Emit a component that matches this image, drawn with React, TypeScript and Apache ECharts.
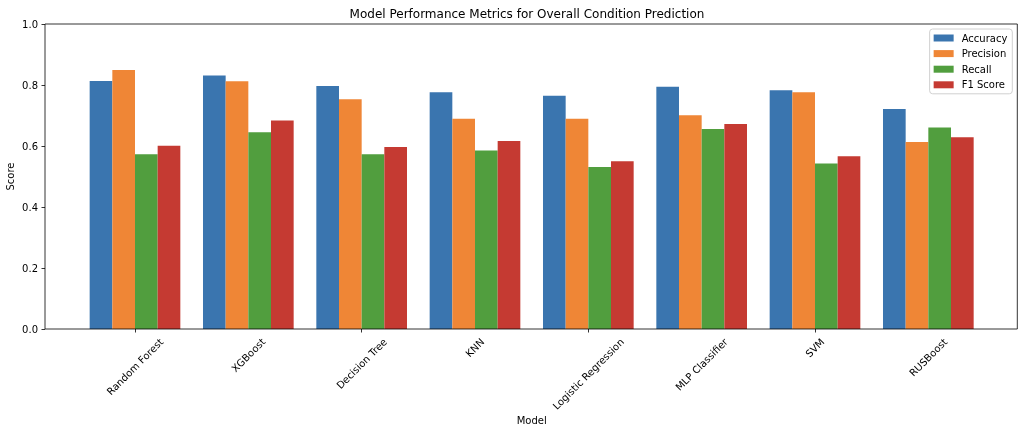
import React, { useEffect, useRef } from "react";
import * as echarts from "echarts";

const models = [
  "Random Forest",
  "XGBoost",
  "Decision Tree",
  "KNN",
  "Logistic Regression",
  "MLP Classifier",
  "SVM",
  "RUSBoost",
];
const accuracy = [0.813, 0.831, 0.797, 0.776, 0.765, 0.794, 0.783, 0.721];
const precision = [0.849, 0.812, 0.753, 0.689, 0.689, 0.701, 0.776, 0.613];
const recall = [0.573, 0.645, 0.573, 0.585, 0.531, 0.656, 0.543, 0.661];
const f1Score = [0.601, 0.684, 0.597, 0.616, 0.55, 0.672, 0.566, 0.629];
const seriesNames = ["Accuracy", "Precision", "Recall", "F1 Score"];
const colors = ["#3a75af", "#ef8636", "#519e3e", "#c53a32"];
const title = "Model Performance Metrics for Overall Condition Prediction";

const FONT = "DejaVu Sans";
const FS = 10;
const FRAME = { left: 45, top: 24, right: 1017.3, bottom: 329 };
const GRID_LEFT = 78.33;
const GRID_WIDTH = 906.67;

export default function App() {
  const ref = useRef<HTMLDivElement>(null);
  useEffect(() => {
    if (!ref.current) return;
    const chart = echarts.init(ref.current, null, { renderer: "svg" });
    const values = [accuracy, precision, recall, f1Score];
    chart.setOption({
      animation: false,
      grid: {
        left: GRID_LEFT,
        top: FRAME.top,
        width: GRID_WIDTH,
        height: FRAME.bottom - FRAME.top,
        containLabel: false,
        outerBoundsMode: "none",
      },
      legend: {
        orient: "vertical",
        right: 11.7,
        top: 29,
        padding: [3, 5, 3, 4],
        itemGap: 3.6,
        itemWidth: 20,
        itemHeight: 7,
        icon: "rect",
        borderColor: "#d0d0d0",
        borderWidth: 1,
        borderRadius: 3,
        backgroundColor: "rgba(255,255,255,0.8)",
        textStyle: {
          fontFamily: FONT,
          fontSize: FS,
          color: "#000",
          lineHeight: 12,
          padding: [0, 0, 0, 3],
        },
        data: seriesNames,
        z: 10,
      },
      xAxis: {
        type: "category",
        data: models,
        axisLine: { show: false },
        axisTick: {
          show: true,
          alignWithLabel: true,
          length: 3.5,
          lineStyle: { color: "#000", width: 0.8 },
        },
        axisLabel: { show: false },
        name: "Model",
        nameLocation: "middle",
        nameGap: 86,
        nameMoveOverlap: false,
        nameTextStyle: { fontFamily: FONT, fontSize: FS, color: "#000" },
      },
      yAxis: {
        type: "value",
        min: 0,
        max: 1,
        interval: 0.2,
        offset: GRID_LEFT - FRAME.left,
        axisLine: { show: false },
        axisTick: {
          show: true,
          length: 3.5,
          lineStyle: { color: "#000", width: 0.8 },
        },
        splitLine: { show: false },
        axisLabel: {
          margin: 7,
          fontFamily: FONT,
          fontSize: FS,
          color: "#000",
          formatter: (v: number) => v.toFixed(1),
        },
        name: "Score",
        nameLocation: "middle",
        nameGap: 30,
        nameMoveOverlap: false,
        nameTextStyle: { fontFamily: FONT, fontSize: FS, color: "#000" },
      },
      series: seriesNames.map((n, i) => ({
        type: "bar",
        name: n,
        data: values[i],
        barCategoryGap: "20%",
        barGap: "0%",
        itemStyle: { color: colors[i] },
      })),
    });

    const ctx = document.createElement("canvas").getContext("2d");
    if (ctx) ctx.font = `${FS}px "${FONT}"`;
    const labelTop = FRAME.bottom + 3.5 + 3.5;
    const textH = 11.6;
    const labelEls = models.map((m, i) => {
      const px = chart.convertToPixel({ xAxisIndex: 0 }, m) as number;
      const L = ctx ? ctx.measureText(m).width : m.length * 6;
      const H = (L + textH) / Math.SQRT2;
      return {
        type: "text",
        id: "xl" + i,
        x: px,
        y: labelTop + H / 2,
        rotation: Math.PI / 4,
        style: {
          text: m,
          align: "center",
          verticalAlign: "middle",
          fontFamily: FONT,
          fontSize: FS,
          fill: "#000",
        },
      };
    });
    chart.setOption({
      graphic: {
        elements: [
          {
            type: "rect",
            id: "frame",
            z: 20,
            shape: {
              x: FRAME.left,
              y: FRAME.top,
              width: FRAME.right - FRAME.left,
              height: FRAME.bottom - FRAME.top,
            },
            style: { fill: "none", stroke: "#000", lineWidth: 0.8 },
            silent: true,
          },
          {
            type: "text",
            id: "title",
            x: 527,
            y: 13.5,
            style: {
              text: title,
              align: "center",
              verticalAlign: "middle",
              fontFamily: FONT,
              fontSize: 12,
              fill: "#000",
            },
          },
          ...labelEls,
        ],
      },
    });
    return () => chart.dispose();
  }, []);
  return (
    <div
      ref={ref}
      style={{ position: "fixed", left: 0, top: 0, width: 1024, height: 434 }}
    />
  );
}
